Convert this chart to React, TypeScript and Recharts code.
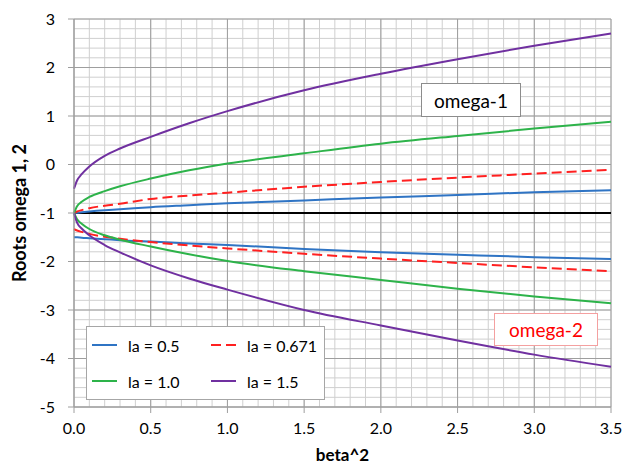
import React from 'react';
import {
    LineChart, Line, XAxis, YAxis, CartesianGrid,
} from 'recharts';

// beta^2 samples shared by every curve
const betaSq = [0, 0.02, 0.05, 0.1, 0.2, 0.3, 0.5, 0.75, 1.0, 1.5, 2.0, 2.5, 3.0, 3.5];

// omega-1 branch (upper)
const la05Up = [-1, -0.995, -0.985, -0.97, -0.945, -0.925, -0.88, -0.84, -0.8, -0.74, -0.68, -0.63, -0.57, -0.53];
const la0671Up = [-1, -0.97, -0.94, -0.9, -0.85, -0.81, -0.71, -0.64, -0.58, -0.46, -0.36, -0.27, -0.19, -0.11];
const la10Up = [-1, -0.86, -0.77, -0.67, -0.55, -0.45, -0.29, -0.12, 0.02, 0.23, 0.43, 0.59, 0.74, 0.88];
const la15Up = [-0.5, -0.33, -0.2, -0.04, 0.18, 0.33, 0.57, 0.85, 1.1, 1.53, 1.87, 2.17, 2.45, 2.7];

// omega-2 branch (lower)
const la05Down = [-1.5, -1.502, -1.51, -1.52, -1.54, -1.56, -1.59, -1.63, -1.66, -1.74, -1.81, -1.86, -1.91, -1.95];
const la0671Down = [-1.33, -1.36, -1.39, -1.43, -1.49, -1.53, -1.6, -1.67, -1.73, -1.84, -1.94, -2.03, -2.12, -2.2];
const la10Down = [-1, -1.13, -1.22, -1.33, -1.46, -1.55, -1.69, -1.85, -1.99, -2.2, -2.38, -2.56, -2.72, -2.86];
const la15Down = [-1, -1.2, -1.32, -1.46, -1.66, -1.81, -2.08, -2.35, -2.58, -3.0, -3.32, -3.63, -3.92, -4.17];

const baseline = [-1, -1, -1, -1, -1, -1, -1, -1, -1, -1, -1, -1, -1, -1];

const xTicks = [0, 0.5, 1.0, 1.5, 2.0, 2.5, 3.0, 3.5];
const yTicks = [-5, -4, -3, -2, -1, 0, 1, 2, 3];
const xMinor = Array.from({ length: 36 }, (_, i) => Math.round(i * 10) / 100);
const yMinor = Array.from({ length: 41 }, (_, i) => Math.round((-5 + i * 0.2) * 10) / 10);

const X_DOMAIN: [number, number] = [0, 3.5];
const Y_DOMAIN: [number, number] = [-5, 3];

const data = betaSq.map((x, i) => ({
    x,
    base: baseline[i],
    b1: la05Up[i], b2: la05Down[i],
    r1: la0671Up[i], r2: la0671Down[i],
    g1: la10Up[i], g2: la10Down[i],
    p1: la15Up[i], p2: la15Down[i],
}));

const BLUE = '#2f74c4';
const RED = '#ff2020';
const GREEN = '#2db34a';
const PURPLE = '#7030a0';
const FONT = 'Lato, "Open Sans", sans-serif';
const MAJOR = '#9e9e9e';
const MINOR = '#cfcfcf';

const legendItems = [
    { label: 'la = 0.5', color: BLUE, dash: undefined },
    { label: 'la = 0.671', color: RED, dash: '10 5' },
    { label: 'la = 1.0', color: GREEN, dash: undefined },
    { label: 'la = 1.5', color: PURPLE, dash: undefined },
];

// minor grid positions through the axis scale (fallback: plot offset)
const minorVertical = ({ xAxis, offset }: any) =>
    xMinor.map((v) =>
        xAxis && typeof xAxis.scale === 'function'
            ? xAxis.scale(v)
            : offset.left + ((v - X_DOMAIN[0]) / (X_DOMAIN[1] - X_DOMAIN[0])) * offset.width,
    );
const minorHorizontal = ({ yAxis, offset }: any) =>
    yMinor.map((v) =>
        yAxis && typeof yAxis.scale === 'function'
            ? yAxis.scale(v)
            : offset.top + ((Y_DOMAIN[1] - v) / (Y_DOMAIN[1] - Y_DOMAIN[0])) * offset.height,
    );

// y tick labels, pushed further left of the tick marks
const YTick = ({ x, y, payload }: any) => (
    <text x={x - 11} y={y} dy="0.35em" textAnchor="end" fill="#000" fontSize={16} fontFamily={FONT}>
        {payload.value}
    </text>
);

const curve = (key: string, color: string, dash?: string) => (
    <Line
        key={key}
        type="monotone"
        dataKey={key}
        stroke={color}
        strokeWidth={2}
        strokeDasharray={dash}
        dot={false}
        activeDot={false}
        isAnimationActive={false}
    />
);

export default function App() {
    return (
        <div style={{ position: 'absolute', left: 0, top: 0, width: 624, height: 464, background: '#fff' }}>
            <LineChart width={624} height={464} data={data} margin={{ top: 19, right: 13, left: 0, bottom: 0 }}>
                <CartesianGrid
                    stroke={MINOR}
                    verticalCoordinatesGenerator={minorVertical}
                    horizontalCoordinatesGenerator={minorHorizontal}
                />
                <CartesianGrid stroke={MAJOR} />
                <XAxis
                    type="number"
                    dataKey="x"
                    domain={X_DOMAIN}
                    ticks={xTicks}
                    tickFormatter={(v: number) => v.toFixed(1)}
                    axisLine={{ stroke: MAJOR }}
                    tickLine={{ stroke: MAJOR }}
                    tickSize={6}
                    tickMargin={10}
                    height={57}
                    tick={{ fill: '#000', fontSize: 16, fontFamily: FONT }}
                    label={{ value: 'beta^2', position: 'insideBottom', offset: 3, style: { fontWeight: 700, fontSize: 17, fontFamily: FONT, fill: '#000' } }}
                />
                <YAxis
                    type="number"
                    domain={Y_DOMAIN}
                    ticks={yTicks}
                    axisLine={{ stroke: MAJOR }}
                    tickLine={{ stroke: MAJOR }}
                    tickSize={6}
                    width={74}
                    tick={<YTick />}
                    label={{ value: 'Roots omega 1, 2', angle: -90, position: 'center', dx: -17, style: { fontWeight: 700, fontSize: 18, fontFamily: FONT, fill: '#000' } }}
                />
                {curve('base', '#000')}
                {curve('b1', BLUE)}
                {curve('b2', BLUE)}
                {curve('r1', RED, '10 5')}
                {curve('r2', RED, '10 5')}
                {curve('g1', GREEN)}
                {curve('g2', GREEN)}
                {curve('p1', PURPLE)}
                {curve('p2', PURPLE)}
            </LineChart>
            <div style={{
                position: 'absolute', left: 86, top: 326, width: 239, height: 74,
                border: '1px solid #a6a6a6', background: '#fff', boxSizing: 'border-box',
                display: 'grid', gridTemplateColumns: '119px 118px', gridTemplateRows: '36px 36px',
                fontFamily: FONT, fontSize: 16, color: '#000',
            }}>
                {legendItems.map((it) => (
                    <div key={it.label} style={{ display: 'flex', alignItems: 'center' }}>
                        <svg width={36} height={10} style={{ marginLeft: 5, flex: 'none' }}>
                            <line x1={0} y1={5} x2={25} y2={5} stroke={it.color} strokeWidth={2} strokeDasharray={it.dash} />
                        </svg>
                        <span>{it.label}</span>
                    </div>
                ))}
            </div>
            <div style={{
                position: 'absolute', left: 421, top: 83, width: 100, height: 34,
                border: '1px solid #8c8c8c', background: '#fff', boxSizing: 'border-box',
                display: 'flex', alignItems: 'center', justifyContent: 'center',
                fontFamily: FONT, fontSize: 19, color: '#000',
            }}>omega-1</div>
            <div style={{
                position: 'absolute', left: 494, top: 313, width: 104, height: 33,
                border: '1px solid #f4a0a0', background: '#fff', boxSizing: 'border-box',
                display: 'flex', alignItems: 'center', justifyContent: 'center',
                fontFamily: FONT, fontSize: 19, color: '#ff0000',
            }}>omega-2</div>
        </div>
    );
}
